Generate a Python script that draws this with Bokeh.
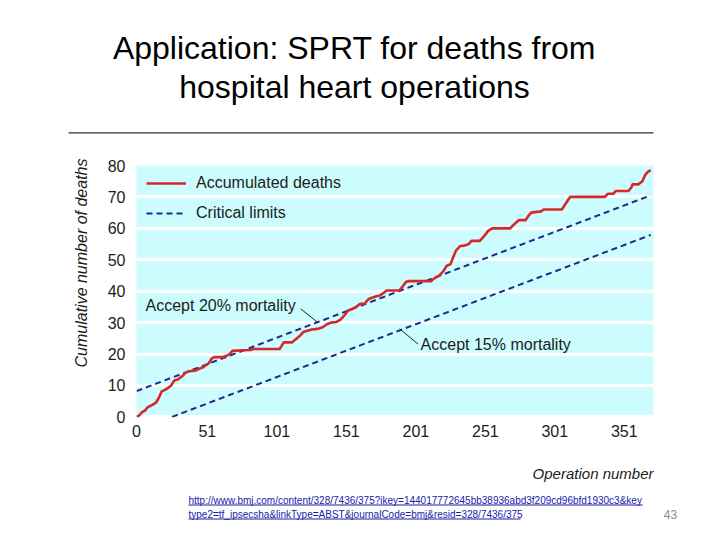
from bokeh.plotting import figure
from bokeh.layouts import column, row
from bokeh.models import Legend, LegendItem, FixedTicker, Range1d, Title
from bokeh.core.properties import value
from bokeh.embed import file_html
from bokeh.resources import INLINE

# ---------------- data ----------------
ops = [0, 2, 4, 6, 8, 10, 12, 14, 16, 18, 20, 22, 25, 27, 30, 33, 35, 38, 43, 46,
       48, 50, 52, 54, 56, 62, 65, 67, 69, 76, 82, 84, 103, 106, 112, 114, 118, 120,
       126, 130, 134, 137, 140, 144, 147, 150, 152, 156, 158, 161, 164, 167, 172,
       175, 178, 180, 189, 191, 194, 196, 212, 214, 218, 221, 223, 226, 228, 230,
       233, 236, 239, 241, 247, 249, 251, 253, 256, 269, 271, 273, 275, 280, 282,
       284, 291, 293, 306, 309, 312, 337, 339, 343, 345, 354, 356, 357, 361, 364,
       366, 368, 370]
deaths = [0, 0.5, 1.5, 2, 3, 3.5, 4, 4.5, 6, 8, 8.5, 9, 10, 11.5, 12, 13, 14, 14.5,
          14.8, 15.5, 15.8, 16.5, 17, 18.5, 19, 19, 19.5, 20, 21, 21.2, 21.3, 21.6,
          21.6, 23.7, 23.7, 24.5, 26, 27, 27.8, 28, 28.5, 29.5, 30, 30.2, 31, 32.5,
          33.8, 34.5, 35, 36, 36, 37.5, 38.3, 38.6, 39.5, 40.2, 40.2, 41.2, 43, 43.2,
          43.2, 44, 45, 46.5, 48, 48.6, 51, 53, 54.4, 54.5, 55, 56, 56, 57, 58, 59.2,
          60, 60, 61, 61.8, 62.6, 62.6, 64, 65, 65.4, 66, 66, 68, 70, 70, 71, 71, 71.9,
          71.9, 73, 74, 74, 75, 77, 78, 78.5]

upper_ops = [0, 370]       # "Accept 20% mortality" boundary
upper_vals = [8.2, 70.5]
lower_ops = [25.6, 370]    # "Accept 15% mortality" boundary
lower_vals = [0, 57.9]

x_ticks = [0, 51, 101, 151, 201, 251, 301, 351]
y_ticks = [0, 10, 20, 30, 40, 50, 60, 70, 80]

series_names = ["Accumulated deaths", "Critical limits"]
note_texts = ["Accept 20% mortality", "Accept 15% mortality"]
note_x = [6.5, 204.4]
note_y = [35.4, 23.0]
leader_x0 = [118.1, 189.4]
leader_y0 = [34.4, 28.0]
leader_x1 = [130.3, 202.5]
leader_y1 = [30.1, 23.2]

title_lines = ["Application: SPRT for deaths from", "hospital heart operations"]
y_title = "Cumulative number of deaths"
x_title = "Operation number"
url_lines = ["http://www.bmj.com/content/328/7436/375?ikey=144017772645bb38936abd3f209cd96bfd1930c3&key",
             "type2=tf_ipsecsha&linkType=ABST&journalCode=bmj&resid=328/7436/375"]
page_number = "43"

# ---------------- styling ----------------
SANS = "Liberation Sans"
RED = "#d6282b"
NAVY = "#1f2a8c"
BG = "#ccfcfd"
TXT = "#1c1c1c"
LINK = "#1a1aa8"


def blank(w, h):
    f = figure(width=w, height=h, x_range=Range1d(0, w), y_range=Range1d(0, h),
               output_backend="svg", toolbar_location=None, title=None,
               x_axis_location=None, y_axis_location=None, min_border=0)
    f.grid.visible = False
    f.outline_line_color = None
    f.background_fill_color = "white"
    f.border_fill_color = "white"
    return f


# ---------------- header: title + rule ----------------
HH = 144
head = blank(704, HH)
head.text(x=[354, 354], y=[HH - 47, HH - 86], text=title_lines,
          text_font=value(SANS), text_font_size="32px", text_color="black",
          text_align="center", text_baseline="middle")
head.segment(x0=[68], y0=[HH - 132.3], x1=[653], y1=[HH - 132.3],
             line_color="#303030", line_width=1.3)

# ---------------- chart ----------------
RH = 306
p = figure(width=704, height=RH, x_range=Range1d(0, 372), y_range=Range1d(-0.2, 80),
           output_backend="svg", toolbar_location=None, title=None,
           min_border_left=136, min_border_right=51, min_border_top=21,
           min_border_bottom=33)
p.background_fill_color = BG
p.border_fill_color = "white"
p.outline_line_color = None

p.xgrid.visible = False
p.ygrid.ticker = FixedTicker(ticks=y_ticks)
p.ygrid.grid_line_color = "white"
p.ygrid.grid_line_width = 3

p.xaxis.ticker = FixedTicker(ticks=x_ticks)
p.yaxis.ticker = FixedTicker(ticks=y_ticks)
for ax in (p.xaxis, p.yaxis):
    ax.axis_line_color = None
    ax.major_tick_line_color = None
    ax.minor_tick_line_color = None
    ax.major_label_text_font = SANS
    ax.major_label_text_font_size = "16px"
    ax.major_label_text_color = TXT
p.xaxis.major_label_standoff = 1
p.yaxis.major_label_standoff = 5

p.add_layout(Title(text=y_title, align="left", offset=50, standoff=30,
                   text_font=SANS, text_font_style="italic", text_font_size="16px",
                   text_color=TXT), "left")

r_up = p.line(upper_ops, upper_vals, line_color=NAVY, line_width=2, line_dash="6 4")
r_lo = p.line(lower_ops, lower_vals, line_color=NAVY, line_width=2, line_dash="6 4")
r_red = p.line(ops, deaths, line_color=RED, line_width=2.6, line_join="round")

p.segment(x0=leader_x0, y0=leader_y0, x1=leader_x1, y1=leader_y1,
          line_color="#222222", line_width=1)
p.text(x=note_x, y=note_y, text=note_texts, text_font=value(SANS),
       text_font_size="16px", text_color=TXT, text_baseline="middle", text_align="left")

legend = Legend(items=[LegendItem(label=series_names[0], renderers=[r_red]),
                       LegendItem(label=series_names[1], renderers=[r_up])],
                location=(10, 194), glyph_width=40, glyph_height=20, label_height=20,
                spacing=10, padding=4, margin=0, label_standoff=10,
                background_fill_alpha=0, border_line_color=None,
                label_text_font=SANS, label_text_font_size="16px",
                label_text_color=TXT)
p.add_layout(legend)

# ---------------- footer ----------------
FH = 74
FY = 450
foot = blank(704, FH)
foot.text(x=[653], y=[FH - (472.5 - FY)], text=[x_title], text_font=value(SANS),
          text_font_style="italic", text_font_size="15px", text_color=TXT,
          text_align="right", text_baseline="middle")
foot.text(x=[188, 188], y=[FH - (499.5 - FY), FH - (513.5 - FY)], text=url_lines,
          text_font=value(SANS), text_font_size="10px", text_color=LINK,
          text_align="left", text_baseline="middle")
foot.segment(x0=[188, 188], y0=[FH - (504.5 - FY), FH - (518.5 - FY)],
             x1=[642, 520], y1=[FH - (504.5 - FY), FH - (518.5 - FY)],
             line_color=LINK, line_width=1)
foot.text(x=[670], y=[FH - (514 - FY)], text=[page_number], text_font=value(SANS),
          text_font_size="12px", text_color="#8c8c8c", text_align="center",
          text_baseline="middle")

layout = column(head, row(p), foot)
open("out.html", "w").write(file_html(layout, INLINE))
